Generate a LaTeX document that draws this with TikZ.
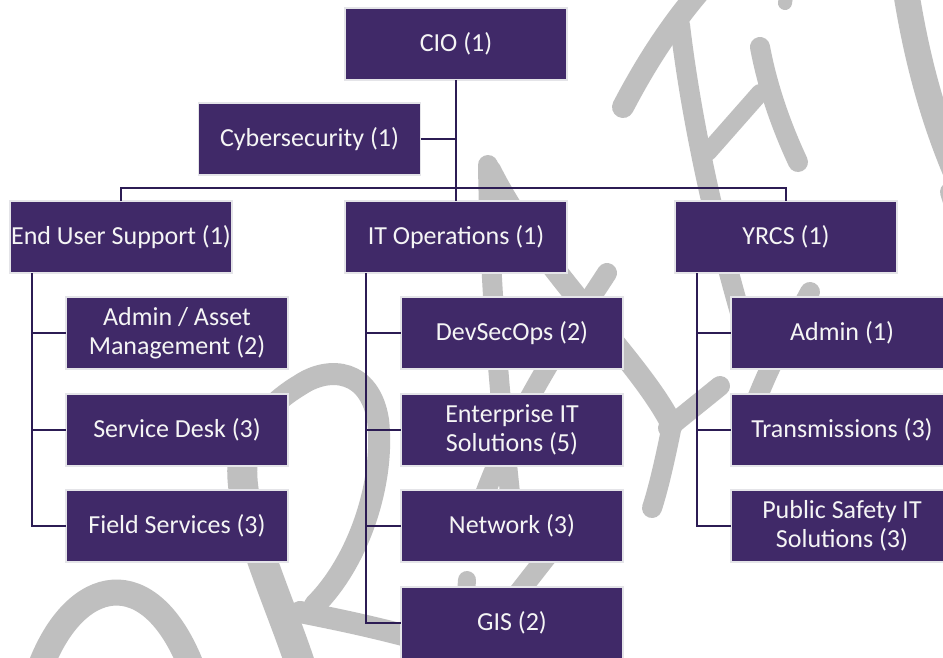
\documentclass[tikz,border=0pt]{standalone}
\usepackage{fontspec}
\setmainfont{Carlito}
\definecolor{boxfill}{RGB}{64,41,104}
\definecolor{boxline}{RGB}{228,228,232}
\definecolor{linkc}{RGB}{44,28,84}
\definecolor{wmgray}{RGB}{191,191,191}
\definecolor{txt}{RGB}{245,245,245}
\tikzset{
  orgbox/.style={draw=boxline, line width=1.5pt, fill=boxfill, text=txt,
    font=\fontsize{26}{29}\selectfont, minimum width=222pt, minimum height=72pt,
    inner sep=0pt, outer sep=0pt, align=center},
  link/.style={draw=linkc, line width=2pt},
  wm/.style={draw=wmgray, line width=22pt, line cap=round}
}
\begin{document}
\begin{tikzpicture}[x=1pt,y=-1pt]
\useasboundingbox (0,0) rectangle (943,657);
\fill[white] (0,0) rectangle (943,657);
\clip (0,0) rectangle (943,657);
% watermark strokes
\draw[wm, line width=26pt] (40,668) .. controls (75,575) and (150,560) .. (192,668);
\draw[wm, line width=30pt] (302,670) .. controls (280,600) and (230,500) .. (245,450);
\draw[wm] (245,450) .. controls (255,420) and (275,400) .. (300,385) .. controls (330,365) and (370,370) .. (378,420) .. controls (385,480) and (360,560) .. (315,605);
\draw[wm] (300,612) .. controls (340,620) and (380,628) .. (440,645);
\draw[wm, line width=20pt] (488,165) .. controls (490,300) and (502,420) .. (515,540);
\draw[wm, line width=20pt] (607,273) .. controls (570,330) and (500,430) .. (470,540);
\draw[wm] (490,170) .. controls (540,270) and (640,360) .. (672,425);
\draw[wm, line width=20pt] (672,425) .. controls (665,460) and (658,490) .. (652,508);
\draw[wm, line width=20pt] (668,428) -- (720,386);
\draw[wm, line width=18pt] (467,580) -- (460,680);
\draw[wm, line width=20pt] (548,555) -- (505,610);
\draw[wm] (623,107) .. controls (645,65) and (670,25) .. (705,-15);
\draw[wm, line width=20pt] (680,25) .. controls (690,110) and (712,220) .. (748,340);
\draw[wm, line width=18pt] (708,152) -- (760,93);
\draw[wm, line width=20pt] (760,47) .. controls (768,90) and (783,130) .. (798,162);
\draw[wm, line width=20pt] (810,292) .. controls (790,330) and (770,360) .. (745,430);
\draw[wm, line width=14pt] (785,3) -- (790,-30);
\draw[wm, line width=26pt] (905,-15) .. controls (915,50) and (930,110) .. (955,170);
\draw[wm, line width=20pt] (950,192) -- (965,240);
% boxes
\node[orgbox] (cio) at (456,44) {CIO (1)};
\node[orgbox] (cyber) at (309.5,139) {Cybersecurity (1)};
\node[orgbox] (eus) at (121,237) {End User Support (1)};
\node[orgbox] (itops) at (456,237) {IT Operations (1)};
\node[orgbox] (yrcs) at (786,237) {YRCS (1)};
\node[orgbox] (aam) at (177,333) {Admin / Asset\\Management (2)};
\node[orgbox] (sd) at (177,430) {Service Desk (3)};
\node[orgbox] (fs) at (177,526) {Field Services (3)};
\node[orgbox] (dso) at (512,333) {DevSecOps (2)};
\node[orgbox] (eit) at (512,430) {Enterprise IT\\Solutions (5)};
\node[orgbox] (net) at (512,526) {Network (3)};
\node[orgbox] (gis) at (512,623) {GIS (2)};
\node[orgbox] (adm) at (842,333) {Admin (1)};
\node[orgbox] (tr) at (842,430) {Transmissions (3)};
\node[orgbox] (ps) at (842,526) {Public Safety IT\\Solutions (3)};
% connectors
\coordinate (bar) at (456,188);
\draw[link] (cio.south) -- (itops.north);
\draw[link] (cyber.east) -- (cyber.east -| cio.south);
\draw[link] (eus.north) |- (bar) -| (yrcs.north);
\coordinate (sp1) at ([xshift=22pt]eus.south west);
\coordinate (sp2) at ([xshift=21pt]itops.south west);
\coordinate (sp3) at ([xshift=22pt]yrcs.south west);
\draw[link] (sp1) |- (fs.west);
\draw[link] (sp1 |- aam.west) -- (aam.west);
\draw[link] (sp1 |- sd.west) -- (sd.west);
\draw[link] (sp2) |- (gis.west);
\draw[link] (sp2 |- dso.west) -- (dso.west);
\draw[link] (sp2 |- eit.west) -- (eit.west);
\draw[link] (sp2 |- net.west) -- (net.west);
\draw[link] (sp3) |- (ps.west);
\draw[link] (sp3 |- adm.west) -- (adm.west);
\draw[link] (sp3 |- tr.west) -- (tr.west);
\end{tikzpicture}
\end{document}
